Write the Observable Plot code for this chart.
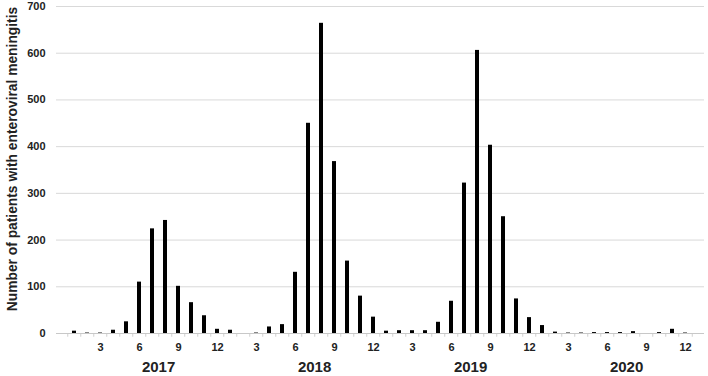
<!DOCTYPE html>
<html>
<head>
<meta charset="utf-8">
<script src="https://cdn.jsdelivr.net/npm/d3@7"></script>
<script src="https://cdn.jsdelivr.net/npm/@observablehq/plot@0.6"></script>
<style>
  html, body { margin: 0; padding: 0; background: #fff; }
  svg { display: block; }
</style>
</head>
<body>
<div id="chart"></div>
<script>
const years = [2017, 2018, 2019, 2020];
const months = [1, 2, 3, 4, 5, 6, 7, 8, 9, 10, 11, 12];
const counts2017 = [5, 1, 1, 7, 25, 110, 224, 242, 101, 66, 38, 9];
const counts2018 = [7, 0, 1, 14, 19, 131, 450, 664, 368, 155, 80, 35];
const counts2019 = [5, 6, 6, 6, 24, 69, 322, 606, 403, 250, 74, 34];
const counts2020 = [17, 3, 1, 1, 2, 2, 2, 4, 0, 2, 9, 1];
const yTicks = [0, 100, 200, 300, 400, 500, 600, 700];
const monthTickLabels = [3, 6, 9, 12];
const yTitle = "Number of patients with enteroviral meningitis";

const countsByYear = [counts2017, counts2018, counts2019, counts2020];
const data = [];
years.forEach((yr, i) => months.forEach((m, j) => {
  data.push({key: `${yr}-${m}`, year: yr, month: m, value: countsByYear[i][j]});
}));
const keys = data.map(d => d.key);
const tickKeys = data.filter(d => monthTickLabels.includes(d.month)).map(d => d.key);

const W = 708, H = 376;
const mL = 56, mR = 4, mT = 6, mB = 43;
const step = (W - mL - mR) / keys.length;
const font = "'Liberation Sans', Arial, sans-serif";

const chart = Plot.plot({
  width: W,
  height: H,
  marginLeft: mL,
  marginRight: mR,
  marginTop: mT,
  marginBottom: mB,
  style: {fontFamily: font, background: "#fff", overflow: "visible"},
  x: {domain: keys, paddingInner: 0.68, paddingOuter: 0.34},
  y: {domain: [0, 700]},
  marks: [
    Plot.gridY(yTicks, {stroke: "#d9d9d9", strokeOpacity: 1, strokeWidth: 1}),
    Plot.ruleX(keys, {x: d => d, dx: -step / 2, y1: 0, y2: -8, stroke: "#d0d0d0", strokeWidth: 1}),
    Plot.ruleX([keys[keys.length - 1]], {x: d => d, dx: step / 2, y1: 0, y2: -8, stroke: "#d0d0d0", strokeWidth: 1}),
    Plot.ruleY([0], {stroke: "#c8c8c8", strokeWidth: 1}),
    Plot.barY(data, {x: "key", y: "value", fill: "#000"}),
    Plot.axisY({ticks: yTicks, tickSize: 0, tickPadding: 11, fontSize: 11, fontWeight: "bold", fill: "#222", label: null}),
    Plot.axisX({ticks: tickKeys, tickSize: 0, tickPadding: 10, fontSize: 11, fontWeight: "bold", fill: "#222", label: null,
      tickFormat: k => k.split("-")[1]}),
    Plot.text(years, {x: d => `${d}-7`, text: d => String(d), frameAnchor: "bottom", dx: step * 0.45, dy: 34,
      lineAnchor: "middle", fontSize: 15, fontWeight: "bold", fill: "#222"}),
    Plot.text([yTitle], {text: d => d, frameAnchor: "left", textAnchor: "middle", lineAnchor: "middle", rotate: -90, dx: -44, dy: -11,
      fontSize: 13.8, fontWeight: "bold", fill: "#222"})
  ]
});
document.getElementById("chart").appendChild(chart);
</script>
</body>
</html>
